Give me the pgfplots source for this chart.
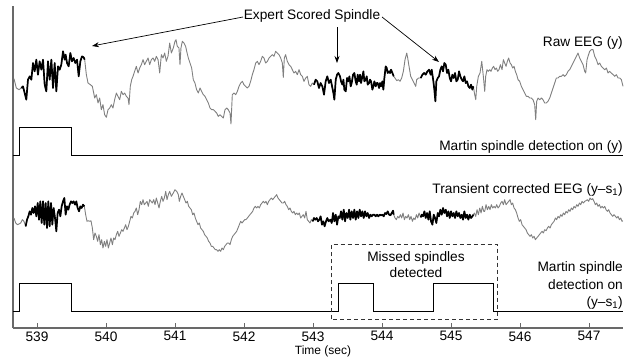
\documentclass[border=0pt]{standalone}
\usepackage{fontspec}
\setmainfont{Liberation Sans}
\usepackage{pgfplots}
\usepackage{pgfplotstable}
\pgfplotsset{compat=1.18}
\usetikzlibrary{arrows.meta}
\definecolor{trace}{RGB}{128,128,128}
\definecolor{axgray}{RGB}{105,105,105}

\pgfplotstableread{
t y
538.666 764
538.700 736
538.739 731
538.773 736
538.797 741
538.821 721
538.845 701
538.869 761
538.894 771
538.918 761
538.942 811
538.966 786
538.990 821
539.014 776
539.038 816
539.063 791
539.087 821
539.111 746
539.135 726
539.159 816
539.183 761
539.208 821
539.232 736
539.256 811
539.280 726
539.304 801
539.328 791
539.352 806
539.377 846
539.401 821
539.415 836
539.435 811
539.459 801
539.483 841
539.507 816
539.531 826
539.555 811
539.580 821
539.604 771
539.628 816
539.652 831
539.676 828
539.691 821
539.715 776
539.739 751
539.773 746
539.802 741
539.836 706
539.860 716
539.884 691
539.908 706
539.932 671
539.956 686
539.980 656
540.005 648
540.029 671
540.053 676
540.077 686
540.101 676
540.125 701
540.150 721
540.174 711
540.198 701
540.222 726
540.246 716
540.270 721
540.295 711
540.319 706
540.333 686
540.352 741
540.372 761
540.391 771
540.415 786
540.439 801
540.464 781
540.488 796
540.512 806
540.536 821
540.560 806
540.584 816
540.609 826
540.633 806
540.657 821
540.681 826
540.705 816
540.729 831
540.754 821
540.778 781
540.802 836
540.826 826
540.850 841
540.874 816
540.898 831
540.923 871
540.947 841
540.975 856
540.999 876
541.014 881
541.033 861
541.057 856
541.072 806
541.086 856
541.106 876
541.130 871
541.154 861
541.169 846
541.193 826
541.217 811
541.241 796
541.265 761
541.289 751
541.313 731
541.338 721
541.362 736
541.386 726
541.410 716
541.434 711
541.458 701
541.483 691
541.507 676
541.531 671
541.555 671
541.579 666
541.603 661
541.627 651
541.652 656
541.676 651
541.700 646
541.724 671
541.748 676
541.772 671
541.797 661
541.811 628
541.830 716
541.855 721
541.879 716
541.903 726
541.927 741
541.951 751
541.975 756
541.999 746
542.024 741
542.048 736
542.072 741
542.096 756
542.120 776
542.144 791
542.169 811
542.193 816
542.217 806
542.241 816
542.265 831
542.289 826
542.313 811
542.338 816
542.362 826
542.386 831
542.410 836
542.434 831
542.458 846
542.483 841
542.507 836
542.531 826
542.555 811
542.569 768
542.584 826
542.603 836
542.627 816
542.652 806
542.676 801
542.700 791
542.724 781
542.748 786
542.772 776
542.797 791
542.821 776
542.845 771
542.869 756
542.893 766
542.917 771
542.941 746
542.966 741
542.990 751
543.014 746
543.038 761
543.062 756
543.086 736
543.110 751
543.135 741
543.159 716
543.183 756
543.207 771
543.231 751
543.256 761
543.271 746
543.295 721
543.309 701
543.329 761
543.348 776
543.367 781
543.391 771
543.406 756
543.425 746
543.440 761
543.454 731
543.474 726
543.493 766
543.512 756
543.527 771
543.546 741
543.560 751
543.580 776
543.599 781
543.618 756
543.633 746
543.647 776
543.667 756
543.681 776
543.696 751
543.715 771
543.730 786
543.744 756
543.763 761
543.778 771
543.792 746
543.812 751
543.826 761
543.841 756
543.860 731
543.874 741
543.889 756
543.908 741
543.923 751
543.937 751
543.957 736
543.971 751
543.986 741
544.005 756
544.019 731
544.034 766
544.053 801
544.068 796
544.082 781
544.102 786
544.116 781
544.131 791
544.150 781
544.169 771
544.188 766
544.213 758
544.237 761
544.261 756
544.285 766
544.309 786
544.333 821
544.358 841
544.372 826
544.391 801
544.415 771
544.440 761
544.464 751
544.488 741
544.502 761
544.527 766
544.561 766
544.585 776
544.609 781
544.633 776
544.657 786
544.681 791
544.705 776
544.720 791
544.744 756
544.758 731
544.773 696
544.787 756
544.807 766
544.826 771
544.845 791
544.865 801
544.884 786
544.903 811
544.923 806
544.942 781
544.961 791
544.981 766
545.000 756
545.019 776
545.039 766
545.058 781
545.077 756
545.097 761
545.116 786
545.135 771
545.155 761
545.174 756
545.193 771
545.213 751
545.232 756
545.251 741
545.271 736
545.290 746
545.309 731
545.324 741
545.338 721
545.358 701
545.372 741
545.396 771
545.420 781
545.445 816
545.468 771
545.488 726
545.502 771
545.521 791
545.541 786
545.560 791
545.579 786
545.599 796
545.618 801
545.637 791
545.657 796
545.676 786
545.695 791
545.715 806
545.739 791
545.758 821
545.777 811
545.797 801
545.816 816
545.835 826
545.855 811
545.874 806
545.893 796
545.913 801
545.932 786
545.951 776
545.971 761
545.995 756
546.019 741
546.043 731
546.067 721
546.091 711
546.116 711
546.140 706
546.164 706
546.188 701
546.212 686
546.227 641
546.241 696
546.261 706
546.285 701
546.309 706
546.333 701
546.357 691
546.381 691
546.405 696
546.430 706
546.454 721
546.478 736
546.502 751
546.526 766
546.550 766
546.575 771
546.599 771
546.623 776
546.647 771
546.671 776
546.695 786
546.719 791
546.744 801
546.768 811
546.792 821
546.816 831
546.840 841
546.864 826
546.889 816
546.913 806
546.937 786
546.951 781
546.971 821
546.985 831
547.009 846
547.034 851
547.058 851
547.082 831
547.106 821
547.130 806
547.154 811
547.178 801
547.203 796
547.227 791
547.251 796
547.275 781
547.299 786
547.323 781
547.348 776
547.372 771
547.396 776
547.420 766
547.444 766
547.468 761
547.492 741
}\rawdata

\pgfplotstableread{
t y
538.666 346
538.691 331
538.715 326
538.739 328
538.763 331
538.787 341
538.811 336
538.836 321
538.855 341
538.874 351
538.894 366
538.913 356
538.932 376
538.952 361
538.971 381
538.990 351
539.010 391
539.029 341
539.048 396
539.067 331
539.087 396
539.106 326
539.125 391
539.145 316
539.164 396
539.183 321
539.203 391
539.222 326
539.241 376
539.261 346
539.280 306
539.299 361
539.319 371
539.338 351
539.357 381
539.377 396
539.396 406
539.415 356
539.435 381
539.454 371
539.473 386
539.493 396
539.512 391
539.531 396
539.551 386
539.570 396
539.589 376
539.609 366
539.628 381
539.647 376
539.667 386
539.686 381
539.705 356
539.724 336
539.744 338
539.763 336
539.782 338
539.802 316
539.821 281
539.840 301
539.860 291
539.879 276
539.898 296
539.918 266
539.937 281
539.956 256
539.976 276
539.995 261
540.014 281
540.034 256
540.053 271
540.072 286
540.092 266
540.111 286
540.130 281
540.150 296
540.169 306
540.188 291
540.208 301
540.227 311
540.246 306
540.266 316
540.285 326
540.304 311
540.324 321
540.343 336
540.362 351
540.382 346
540.401 361
540.420 366
540.439 376
540.459 356
540.478 371
540.497 396
540.517 386
540.536 401
540.555 386
540.575 391
540.594 396
540.613 381
540.633 401
540.652 396
540.671 391
540.691 401
540.710 386
540.729 406
540.749 391
540.768 376
540.787 396
540.807 411
540.826 396
540.845 406
540.865 426
540.884 401
540.903 416
540.923 426
540.947 411
540.975 421
540.999 431
541.024 426
541.048 416
541.062 396
541.082 411
541.101 421
541.120 411
541.140 401
541.159 391
541.178 396
541.198 381
541.217 376
541.236 371
541.256 356
541.275 361
541.294 346
541.313 336
541.333 326
541.352 331
541.371 316
541.391 311
541.410 306
541.429 296
541.449 291
541.468 286
541.487 276
541.507 271
541.526 261
541.545 261
541.565 256
541.584 251
541.603 251
541.623 246
541.642 251
541.661 246
541.681 256
541.700 251
541.719 261
541.739 266
541.758 271
541.777 271
541.797 266
541.816 281
541.835 291
541.855 296
541.874 301
541.893 306
541.913 316
541.932 326
541.951 336
541.971 331
541.990 336
542.009 341
542.028 341
542.048 346
542.067 351
542.086 356
542.106 361
542.125 366
542.144 376
542.164 381
542.183 376
542.202 381
542.222 376
542.241 386
542.260 391
542.280 396
542.299 391
542.318 396
542.338 386
542.357 396
542.376 401
542.396 406
542.415 401
542.434 406
542.454 411
542.473 416
542.492 406
542.512 401
542.531 396
542.550 391
542.569 391
542.589 396
542.608 386
542.627 381
542.647 371
542.666 376
542.685 366
542.705 361
542.724 366
542.743 356
542.763 361
542.782 356
542.801 361
542.821 346
542.840 351
542.859 356
542.879 346
542.898 366
542.917 341
542.937 336
542.956 331
542.975 341
542.995 336
543.014 346
543.033 341
543.053 346
543.072 336
543.091 341
543.110 351
543.130 326
543.149 336
543.168 321
543.188 336
543.207 346
543.226 336
543.251 341
543.271 331
543.290 361
543.309 336
543.329 356
543.348 326
543.367 351
543.387 346
543.406 366
543.425 341
543.445 371
543.464 336
543.483 361
543.503 346
543.522 371
543.541 341
543.560 366
543.580 346
543.599 371
543.618 341
543.638 366
543.657 346
543.676 371
543.696 351
543.715 366
543.734 346
543.754 366
543.773 351
543.792 361
543.812 346
543.831 356
543.850 351
543.870 356
543.889 356
543.908 351
543.928 356
543.947 351
543.966 356
543.986 354
544.005 356
544.024 351
544.044 361
544.063 358
544.082 366
544.102 356
544.121 354
544.140 361
544.160 368
544.169 356
544.188 346
544.208 341
544.227 351
544.246 346
544.266 356
544.285 346
544.304 361
544.324 341
544.343 351
544.362 346
544.382 356
544.401 341
544.420 351
544.440 336
544.459 346
544.478 341
544.498 356
544.517 346
544.536 361
544.561 348
544.575 356
544.594 351
544.614 366
544.633 346
544.652 361
544.672 341
544.691 366
544.710 336
544.730 326
544.749 356
544.768 346
544.787 331
544.807 361
544.826 351
544.845 371
544.865 356
544.884 376
544.903 361
544.923 371
544.942 351
544.961 366
544.981 346
545.000 366
545.019 351
545.039 361
545.058 346
545.077 366
545.097 351
545.116 361
545.135 346
545.155 356
545.174 341
545.193 366
545.213 346
545.232 356
545.251 341
545.271 356
545.290 346
545.309 351
545.324 356
545.338 361
545.358 351
545.377 371
545.396 356
545.416 376
545.435 361
545.454 381
545.474 366
545.488 366
545.507 386
545.526 371
545.546 381
545.565 371
545.584 386
545.604 376
545.623 381
545.642 376
545.662 386
545.681 376
545.700 381
545.720 391
545.739 396
545.758 386
545.777 401
545.797 386
545.816 391
545.835 396
545.855 401
545.874 386
545.893 391
545.913 376
545.932 371
545.951 361
545.971 346
545.990 336
546.009 341
546.029 326
546.048 321
546.067 316
546.087 311
546.106 301
546.125 296
546.145 291
546.164 296
546.183 286
546.203 291
546.222 281
546.241 286
546.261 291
546.280 296
546.299 301
546.319 306
546.338 301
546.357 311
546.377 308
546.396 316
546.415 321
546.435 316
546.454 326
546.473 331
546.493 336
546.512 346
546.531 341
546.550 351
546.570 346
546.589 356
546.608 351
546.628 361
546.647 356
546.666 366
546.686 361
546.705 371
546.724 366
546.744 376
546.763 371
546.782 381
546.802 376
546.821 386
546.840 381
546.860 391
546.879 386
546.898 396
546.918 391
546.937 396
546.956 398
546.976 401
546.995 396
547.014 406
547.034 401
547.053 404
547.072 396
547.092 386
547.111 391
547.130 381
547.150 386
547.169 376
547.188 381
547.208 376
547.227 381
547.246 371
547.266 366
547.285 371
547.304 361
547.324 356
547.343 351
547.362 356
547.382 351
547.401 346
547.420 351
547.440 341
547.459 346
547.478 336
547.488 338
}\corrdata

\pgfplotstableread{
t y
538.652 535
538.743 535
538.743 619
539.497 619
539.497 535
547.492 535
}\detraw

\pgfplotstableread{
t y
538.652 67
538.743 67
538.743 151
539.502 151
539.502 67
543.367 67
543.367 151
543.879 151
543.879 67
544.744 67
544.744 151
545.619 151
545.619 67
547.492 67
}\detcorr

\begin{document}
\begin{tikzpicture}[font=\fontsize{13.7}{16.5}\selectfont]
\useasboundingbox (-13pt,-32pt) rectangle (624pt,328pt);
\begin{axis}[
  scale only axis,
  width=610pt, height=322pt,
  xmin=538.652, xmax=547.492,
  ymin=16, ymax=982,
  axis lines=left,
  axis line style={draw=axgray, line width=1.2pt, -},
  xtick={539,540,541,542,543,544,545,546,547},
  ytick=\empty,
  tick align=inside,
  major tick length=5pt,
  xtick style={draw=axgray, line width=0.8pt},
  /pgf/number format/assume math mode=true,
  xticklabel style={font=\fontsize{13.7}{16}\selectfont},
  xticklabel={\pgfmathprintnumber[1000 sep={}]{\tick}},
  unbounded coords=jump,
  clip=false,
]
\addplot[trace, line width=0.9pt, line join=round] table[x=t,y=y] {\rawdata};
\addplot[black, line width=1.7pt, line join=round, restrict x to domain=538.772:539.692] table[x=t,y=y] {\rawdata};
\addplot[black, line width=1.7pt, line join=round, restrict x to domain=543.013:544.170] table[x=t,y=y] {\rawdata};
\addplot[black, line width=1.7pt, line join=round, restrict x to domain=544.560:545.325] table[x=t,y=y] {\rawdata};
\addplot[trace, line width=0.9pt, line join=round] table[x=t,y=y] {\corrdata};
\addplot[black, line width=1.7pt, line join=round, restrict x to domain=538.835:539.687] table[x=t,y=y] {\corrdata};
\addplot[black, line width=1.7pt, line join=round, restrict x to domain=542.994:544.170] table[x=t,y=y] {\corrdata};
\addplot[black, line width=1.7pt, line join=round, restrict x to domain=544.560:545.325] table[x=t,y=y] {\corrdata};
\addplot[black, line width=1pt] table[x=t,y=y] {\detraw};
\addplot[black, line width=1pt] table[x=t,y=y] {\detcorr};
\end{axis}
% annotations (1pt ~ 1px of the reference)
\draw[black!80, line width=0.8pt, dash pattern=on 4pt off 3pt] (318.7pt,8.7pt) rectangle (484.3pt,83.7pt);
\node[anchor=center] at (299pt,312pt) {Expert Scored Spindle};
\draw[line width=0.7pt, -{Stealth[length=7pt,width=5pt]}] (230pt,311pt) -- (79pt,282pt);
\draw[line width=0.7pt, -{Stealth[length=7pt,width=5pt]}] (324pt,301pt) -- (324pt,265pt);
\draw[line width=0.7pt, -{Stealth[length=7pt,width=5pt]}] (369pt,311pt) -- (426pt,266pt);
\node[anchor=east, inner sep=0pt] at (610pt,285pt) {Raw EEG (y)};
\node[anchor=east, inner sep=0pt] at (610pt,181pt) {Martin spindle detection on (y)};
\node[anchor=east, inner sep=0pt] at (610pt,138pt) {Transient corrected EEG (y--s\textsubscript{1})};
\node[align=center, inner sep=0pt, font=\fontsize{13.7}{16}\selectfont] at (403pt,63.5pt) {Missed spindles\\detected};
\node[align=right, anchor=east, inner sep=0pt, font=\fontsize{13.7}{17.5}\selectfont] at (610pt,42.5pt) {Martin spindle\\detection on\\(y--s\textsubscript{1})};
\node[font=\fontsize{12}{14}\selectfont] at (310pt,-23pt) {Time (sec)};
\end{tikzpicture}
\end{document}
